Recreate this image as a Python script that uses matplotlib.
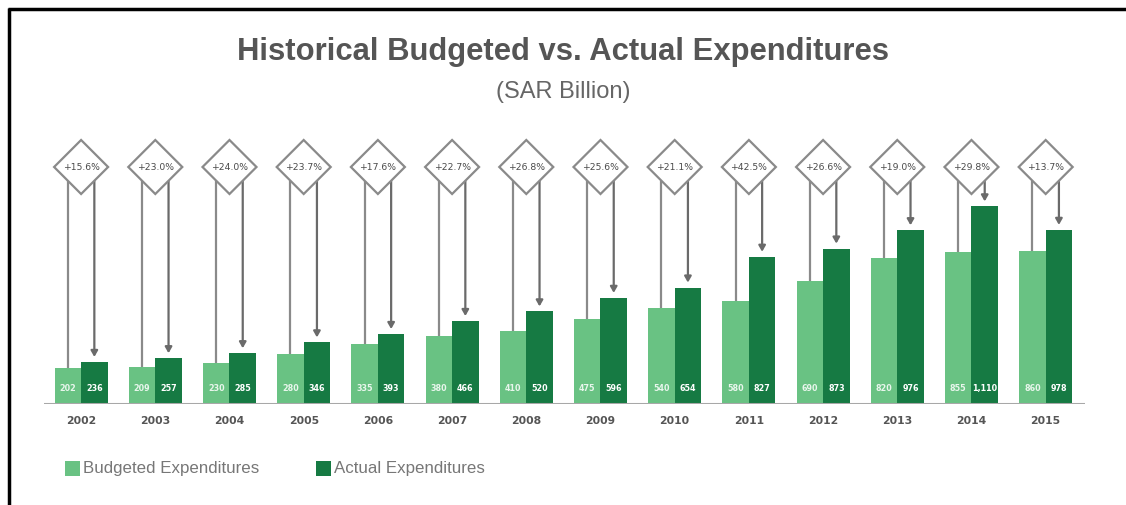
import matplotlib
matplotlib.use("Agg")
import matplotlib.pyplot as plt
from matplotlib.patches import Polygon
from matplotlib.lines import Line2D
import numpy as np

years = ["2002", "2003", "2004", "2005", "2006", "2007", "2008",
         "2009", "2010", "2011", "2012", "2013", "2014", "2015"]
budgeted = [202, 209, 230, 280, 335, 380, 410, 475, 540, 580, 690, 820, 855, 860]
actual = [236, 257, 285, 346, 393, 466, 520, 596, 654, 827, 873, 976, 1110, 978]
actual_labels = ["236", "257", "285", "346", "393", "466", "520", "596", "654",
                 "827", "873", "976", "1,110", "978"]
growth = ["+15.6%", "+23.0%", "+24.0%", "+23.7%", "+17.6%", "+22.7%", "+26.8%",
          "+25.6%", "+21.1%", "+42.5%", "+26.6%", "+19.0%", "+29.8%", "+13.7%"]

LIGHT = "#69c283"
DARK = "#167a43"
GRAY = "#8a8a8a"

W, H = 1126, 506
fig = plt.figure(figsize=(W / 100, H / 100), dpi=100)
fig.patch.set_facecolor("white")

# axes placement in pixels
ax_left, ax_right, ax_bottom, ax_top = 44, 1085, 405, 140
ax = fig.add_axes([ax_left / W, (H - ax_bottom) / H,
                   (ax_right - ax_left) / W, (ax_bottom - ax_top) / H])
px_per_unit_y = 0.178
ymax = (ax_bottom - ax_top) / px_per_unit_y
ax.set_ylim(0, ymax)
x = np.arange(len(years))
ax.set_xlim(-0.5, 13.53)
px_per_unit_x = (ax_right - ax_left) / (13.53 + 0.5)

bw = 0.357
ax.bar(x - bw / 2, budgeted, width=bw, color=LIGHT, zorder=2)
ax.bar(x + bw / 2, actual, width=bw, color=DARK, zorder=2)

for i in range(len(years)):
    ax.text(x[i] - bw / 2, 90, str(budgeted[i]), ha="center", va="center",
            fontsize=5.8, fontweight="bold", color="#e8f6ec", zorder=3)
    ax.text(x[i] + bw / 2, 90, actual_labels[i], ha="center", va="center",
            fontsize=5.8, fontweight="bold", color="white", zorder=3)

# diamonds with connectors
yc = (ax_bottom - 168) / px_per_unit_y
hw = 27 / px_per_unit_x
hh = 27 / px_per_unit_y
gap = 5 / px_per_unit_y
for i in range(len(years)):
    c = x[i]
    poly = Polygon([[c - hw, yc], [c, yc + hh], [c + hw, yc], [c, yc - hh]],
                   closed=True, facecolor="white", edgecolor=GRAY, lw=1.6,
                   zorder=4, clip_on=False)
    ax.add_patch(poly)
    ax.text(c, yc, growth[i], ha="center", va="center", fontsize=6.7,
            color="#4a4a4a", zorder=5, clip_on=False)
    off = bw / 2
    ystart = yc - hh * (1 - off / hw)
    ax.plot([c - off, c - off], [ystart, budgeted[i]], color=GRAY, lw=1.6,
            zorder=1, solid_capstyle="butt")
    ax.annotate("", xy=(c + off, actual[i] + gap), xytext=(c + off, ystart),
                arrowprops=dict(arrowstyle="-|>,head_length=0.35,head_width=0.2",
                                color="#6a6a6a", lw=1.6, shrinkA=0, shrinkB=0),
                zorder=1)

ax.axhline(0, color="#a8a8a8", lw=2.2, zorder=3)
for s in ax.spines.values():
    s.set_visible(False)
ax.set_yticks([])
ax.set_xticks(x)
ax.set_xticklabels(years, fontsize=7.8, color="#555555", fontweight="bold")
ax.tick_params(axis="x", length=0, pad=8)

# titles
fig.text(563 / W, 1 - 52 / H, "Historical Budgeted vs. Actual Expenditures",
         ha="center", va="center", fontsize=22.3, fontweight="bold",
         color="#555555", family="Liberation Sans")
fig.text(563 / W, 1 - 92 / H, "(SAR Billion)", ha="center", va="center",
         fontsize=17, color="#666666", family="Liberation Sans")

# legend
def legend_item(xpx, color, label):
    fig.patches.append(plt.Rectangle((xpx / W, 1 - 477 / H), 15 / W, 15 / H,
                                     transform=fig.transFigure, facecolor=color,
                                     edgecolor="none"))
    fig.text((xpx + 18) / W, 1 - 469 / H, label, ha="left", va="center",
             fontsize=12.2, color="#777777", family="Liberation Sans")

legend_item(65, LIGHT, "Budgeted Expenditures")
legend_item(316, DARK, "Actual Expenditures")

# border
fig.add_artist(Line2D([8 / W, 1], [1 - 10 / H, 1 - 10 / H],
                      transform=fig.transFigure, color="black", lw=2.5,
                      solid_capstyle="butt"))
fig.add_artist(Line2D([9 / W, 9 / W], [0, 1 - 9 / H],
                      transform=fig.transFigure, color="black", lw=2.5,
                      solid_capstyle="butt"))

fig.savefig("out.png", dpi=100, facecolor="white")
